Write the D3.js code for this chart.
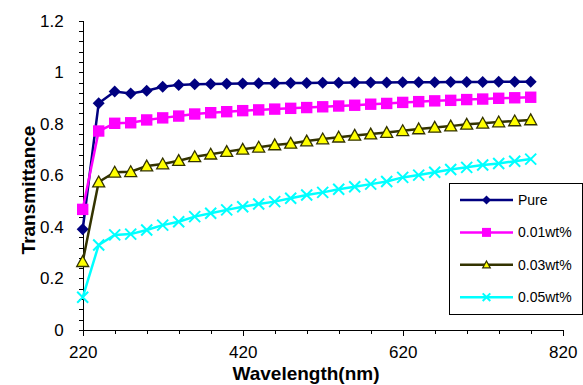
<!DOCTYPE html>
<meta charset="utf-8">
<style>
body { margin: 0; background: #fff; }
text { font-family: "Liberation Sans", Arial, sans-serif; }
.axis path, .axis line { stroke: #000; stroke-width: 1px; shape-rendering: crispEdges; }
.axis text { font-size: 17px; fill: #000; }
</style>
<body>
<svg width="583" height="385"></svg>
<script src="https://cdn.jsdelivr.net/npm/d3@7/dist/d3.min.js"></script>
<script>
// wavelengths (nm), one reading every 20 nm
var wavelengths = [220, 240, 260, 280, 300, 320, 340, 360, 380, 400, 420, 440, 460, 480, 500,
                   520, 540, 560, 580, 600, 620, 640, 660, 680, 700, 720, 740, 760, 780];

var pure = [0.391, 0.880, 0.925, 0.918, 0.928, 0.944, 0.951, 0.953, 0.954, 0.955, 0.956, 0.957, 0.957, 0.958, 0.958,
            0.959, 0.959, 0.960, 0.960, 0.960, 0.961, 0.961, 0.961, 0.962, 0.962, 0.962, 0.963, 0.963, 0.963];
var wt001 = [0.468, 0.772, 0.802, 0.804, 0.815, 0.823, 0.830, 0.838, 0.843, 0.847, 0.851, 0.854, 0.857, 0.860, 0.863,
             0.866, 0.869, 0.872, 0.876, 0.879, 0.883, 0.886, 0.889, 0.891, 0.894, 0.896, 0.899, 0.901, 0.903];
var wt003 = [0.265, 0.574, 0.612, 0.614, 0.636, 0.644, 0.657, 0.672, 0.682, 0.692, 0.701, 0.709, 0.718, 0.724, 0.733,
             0.741, 0.748, 0.755, 0.760, 0.766, 0.773, 0.780, 0.786, 0.791, 0.798, 0.802, 0.807, 0.811, 0.815];
var wt005 = [0.127, 0.330, 0.369, 0.372, 0.388, 0.407, 0.420, 0.440, 0.453, 0.466, 0.478, 0.489, 0.498, 0.511, 0.524,
             0.534, 0.546, 0.556, 0.566, 0.576, 0.592, 0.601, 0.612, 0.623, 0.631, 0.640, 0.646, 0.655, 0.663];

var seriesNames = ["Pure", "0.01wt%", "0.03wt%", "0.05wt%"];
var xTickLabels = [220, 420, 620, 820];
var yTickLabels = [0, 0.2, 0.4, 0.6, 0.8, 1, 1.2];

var series = [
  { name: seriesNames[0], values: pure,  line: "#000080", fill: "#000080", stroke: "none",    shape: "diamond" },
  { name: seriesNames[1], values: wt001, line: "#ff00ff", fill: "#ff00ff", stroke: "none",    shape: "square" },
  { name: seriesNames[2], values: wt003, line: "#333300", fill: "#ffff00", stroke: "#333300", shape: "triangle" },
  { name: seriesNames[3], values: wt005, line: "#00ffff", fill: "none",    stroke: "#00ffff", shape: "cross" }
];

var svg = d3.select("svg");

var x = d3.scaleLinear().domain([220, 820]).range([82.7, 562.7]);
var y = d3.scaleLinear().domain([0, 1.2]).range([330, 20.7]);

// marker paths, s = half size
function marker(shape, s) {
  if (shape == "diamond") return "M0," + (-s) + "L" + s + ",0L0," + s + "L" + (-s) + ",0Z";
  if (shape == "square") return "M" + (-s) + "," + (-s) + "h" + (2 * s) + "v" + (2 * s) + "h" + (-2 * s) + "Z";
  if (shape == "triangle") return "M0," + (-s) + "L" + s + "," + (s * 0.8) + "L" + (-s) + "," + (s * 0.8) + "Z";
  return "M" + (-s) + "," + (-s) + "L" + s + "," + s + "M" + (-s) + "," + s + "L" + s + "," + (-s);
}
var markerSize = { diamond: 6, square: 5.7, triangle: 6, cross: 5.5 };
var legendSize = { diamond: 4.5, square: 4.5, triangle: 3.8, cross: 3.8 };

// x axis: minor ticks then major ticks with labels
svg.append("g").attr("class", "axis")
    .attr("transform", "translate(0,330)")
    .call(d3.axisBottom(x).tickValues(d3.range(220, 821, 40)).tickSize(4).tickFormat(""));
svg.append("g").attr("class", "axis")
    .attr("transform", "translate(0,330)")
    .call(d3.axisBottom(x).tickValues(xTickLabels).tickSize(6).tickPadding(10).tickSizeOuter(0));

// y axis
svg.append("g").attr("class", "axis")
    .attr("transform", "translate(82.7,0)")
    .call(d3.axisLeft(y).tickValues(d3.range(0, 1.21, 0.04)).tickSize(4).tickFormat(""));
svg.append("g").attr("class", "axis")
    .attr("transform", "translate(82.7,0)")
    .call(d3.axisLeft(y).tickValues(yTickLabels).tickSize(4).tickPadding(15).tickSizeOuter(0)
      .tickFormat(function(d) { return d3.format("")(+d.toFixed(1)); }));

// axis titles
svg.append("text")
    .attr("x", 306).attr("y", 380)
    .attr("text-anchor", "middle")
    .style("font-size", "19px").style("font-weight", "bold")
    .text("Wavelength(nm)");
svg.append("text")
    .attr("transform", "translate(35,190) rotate(-90)")
    .attr("text-anchor", "middle")
    .style("font-size", "19px").style("font-weight", "bold")
    .text("Transmittance");

var line = d3.line()
    .x(function(d, i) { return x(wavelengths[i]); })
    .y(function(d) { return y(d); });

series.forEach(function(s) {
  var g = svg.append("g");
  g.append("path")
      .datum(s.values)
      .attr("fill", "none")
      .attr("stroke", s.line)
      .attr("stroke-width", 2.5)
      .attr("d", line);
  g.selectAll("path.pt")
      .data(s.values)
      .enter().append("path")
      .attr("class", "pt")
      .attr("transform", function(d, i) { return "translate(" + x(wavelengths[i]) + "," + y(d) + ")"; })
      .attr("d", marker(s.shape, markerSize[s.shape]))
      .attr("fill", s.fill)
      .attr("stroke", s.stroke)
      .attr("stroke-width", s.shape == "cross" ? 2 : 1.3);
});

// legend
var legend = svg.append("g");
legend.append("rect")
    .attr("x", 449.5).attr("y", 183.5)
    .attr("width", 133).attr("height", 131)
    .attr("fill", "#fff").attr("stroke", "#000").attr("stroke-width", 1);

var item = legend.selectAll("g.item")
    .data(series)
    .enter().append("g")
    .attr("class", "item")
    .attr("transform", function(d, i) { return "translate(0," + (200 + i * 32.4) + ")"; });
item.append("line")
    .attr("x1", 460).attr("x2", 513)
    .attr("stroke", function(d) { return d.line; })
    .attr("stroke-width", 2.5);
item.append("path")
    .attr("transform", "translate(486.5,0)")
    .attr("d", function(d) { return marker(d.shape, legendSize[d.shape]); })
    .attr("fill", function(d) { return d.fill; })
    .attr("stroke", function(d) { return d.stroke; })
    .attr("stroke-width", function(d) { return d.shape == "cross" ? 2 : 1.2; });
item.append("text")
    .attr("x", 518).attr("dy", "0.36em")
    .style("font-size", "14px")
    .text(function(d) { return d.name; });
</script>
